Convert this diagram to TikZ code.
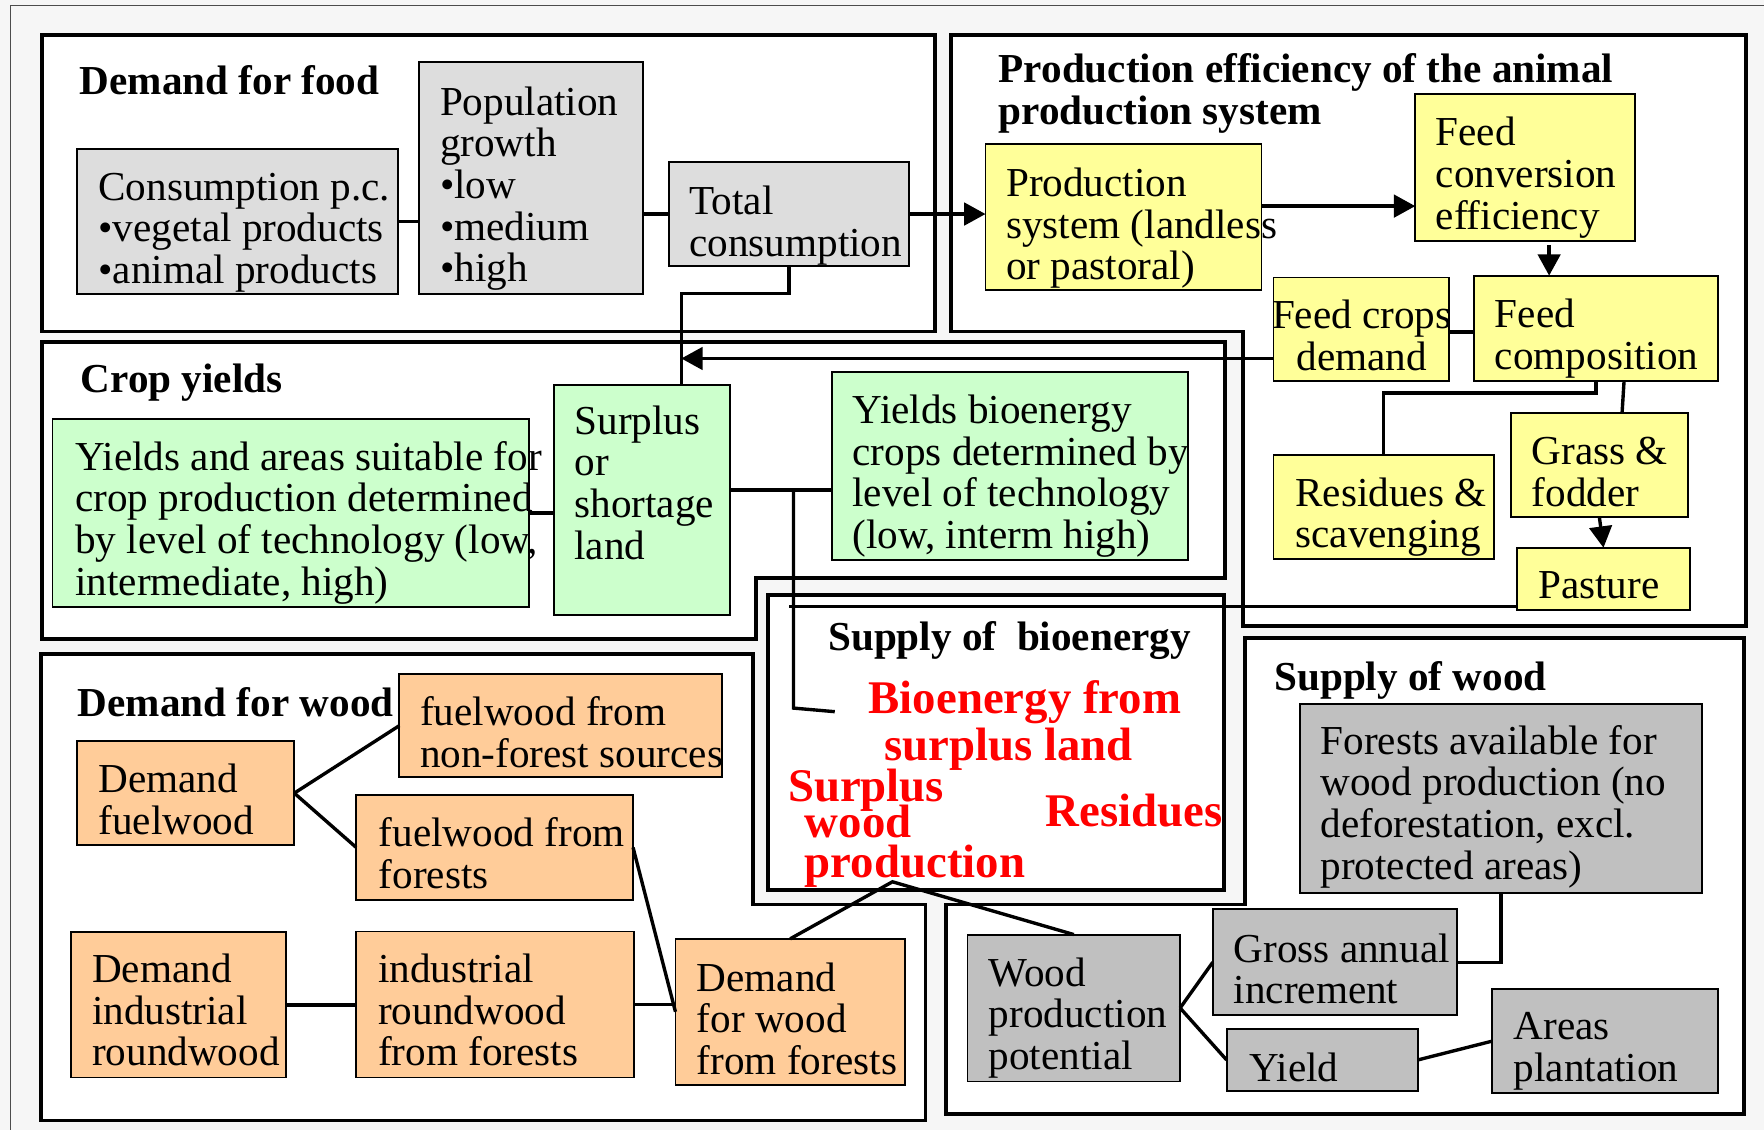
\documentclass[tikz,border=0pt]{standalone}
\usepackage{fontspec}
\setmainfont{Liberation Serif}
\usetikzlibrary{arrows.meta}

\definecolor{foodgrey}{HTML}{DDDDDD}
\definecolor{woodgrey}{HTML}{C0C0C0}
\definecolor{feedyellow}{HTML}{FFFF99}
\definecolor{cropgreen}{HTML}{CCFFCC}
\definecolor{woodorange}{HTML}{FFCC99}
\definecolor{bioredtext}{HTML}{FF0000}

\newcommand\bodysize{\fontsize{36.6}{37}\selectfont}
\newcommand\biosize{\fontsize{41.6}{39}\selectfont}
% stacked lines whose baseline is the baseline of the first line
\newcommand\rows[1]{\vtop{\let\\\cr\halign{##\hfil\cr#1\crcr}}}
\newcommand\crows[1]{\vtop{\let\\\cr\halign{\hfil##\hfil\cr#1\crcr}}}

\tikzset{
  panel/.style={draw=black, fill=white, line width=3.4pt},
  box/.style={draw=black, line width=1.7pt, inner sep=0pt, outer sep=0pt, anchor=north west},
  foodbox/.style={box, fill=foodgrey},
  feedbox/.style={box, fill=feedyellow},
  cropbox/.style={box, fill=cropgreen},
  fuelbox/.style={box, fill=woodorange},
  forestbox/.style={box, fill=woodgrey},
  boxtext/.style={font=\bodysize, inner sep=0pt, anchor=base west},
  heading/.style={font=\bodysize\bfseries, inner sep=0pt, anchor=base west},
  biotext/.style={font=\biosize\bfseries, text=bioredtext, inner sep=0pt, anchor=base west},
  link/.style={line width=3pt},
  feedarrow/.style={link, -{Triangle[length=19pt,width=20pt]}},
}

% box: name, style, x1, y1, x2, y2, text x, first baseline, lines
\newcommand\tbox[9]{%
  \pgfmathsetmacro\tbw{#5-#3}%
  \pgfmathsetmacro\tbh{#6-#4}%
  \node[#2, minimum width=\tbw pt, minimum height=\tbh pt] (#1) at (#3,#4) {};%
  \pgfmathsetmacro\tbdx{#7-#3}%
  \pgfmathsetmacro\tbdy{#8-#4}%
  \node[boxtext] (#1-t) at ([shift={(\tbdx,\tbdy)}]#1.north west) {\rows{#9}};}

\begin{document}
\begin{tikzpicture}[x=1pt,y=-1pt]
\useasboundingbox (0,0) rectangle (1568,1004);
\fill[gray!7] (0,0) rectangle (1568,1004);
\draw[gray!60!black, line width=1pt] (9.3,1004) -- (9.3,4.8) -- (1568,4.8);

% group panels
\draw[panel] (37.5,31.4) rectangle (831,294.7);
\draw[panel] (845.4,31.4) -- (1552,31.4) -- (1552,556.4) -- (1104.6,556.4)
  -- (1104.6,294.7) -- (845.4,294.7) -- cycle;
\draw[panel] (37.5,303.7) -- (1088.6,303.7) -- (1088.6,514.1) -- (672,514.1)
  -- (672,568.3) -- (37.5,568.3) -- cycle;
\draw[panel] (682.7,528.6) rectangle (1088,791.2);
\draw[panel] (36.7,581.4) -- (669.3,581.4) -- (669.3,804) -- (822.7,804)
  -- (822.7,996) -- (36.7,996) -- cycle;
\draw[panel] (1107,567) -- (1550,567) -- (1550,990) -- (841,990)
  -- (841,804) -- (1107,804) -- cycle;

% headings
\node[heading] (hfood) at (70.7,83.9) {Demand for food};
\node[heading] (hanim1) at (887.6,73) {Production efficiency of the animal};
\node[heading] (hanim2) at (887.6,110.5) {production system};
\node[heading] (hcrop) at (71.7,349.2) {Crop yields};
\node[heading] (hbio) at (736,578.2) {Supply of\ \ bioenergy};
\node[heading] (hdwood) at (69,636.6) {Demand for wood};
\node[heading] (hswood) at (1132.6,613.5) {Supply of wood};

% demand for food
\tbox{cons}{foodbox}{68.3}{132.3}{354}{261.7}{87.3}{177.8}{Consumption p.c.\\•vegetal products\\•animal products}
\tbox{pop}{foodbox}{372.7}{55.1}{571.5}{261.7}{391}{102.5}{Population\\growth\\•low\\•medium\\•high}
\tbox{tot}{foodbox}{594.3}{144.1}{808.3}{236.4}{612.6}{190.6}{Total\\consumption}

% animal production system
\tbox{prod}{feedbox}{876}{128.1}{1121.3}{257.9}{894.2}{174.6}{Production\\system (landless\\or pastoral)}
\tbox{fce}{feedbox}{1258}{83.9}{1453.6}{214.6}{1276}{129.7}{Feed\\conversion\\efficiency}
\tbox{fcomp}{feedbox}{1310.3}{245}{1526.9}{338.6}{1328.6}{291.5}{Feed\\composition}
\node[feedbox, minimum width=155.6pt, minimum height=91.9pt] (fcd) at (1132,246.7) {};
\node[boxtext, anchor=base] (fcd-t) at ([shift={(78.5,45.4)}]fcd.north west) {\crows{Feed crops\\demand}};
\tbox{resid}{feedbox}{1132}{404.3}{1327.6}{496.6}{1151.3}{450}{Residues \&\\scavenging}
\tbox{grass}{feedbox}{1343}{366.8}{1500.3}{459.7}{1361.3}{413.2}{Grass \&\\fodder}
\tbox{past}{feedbox}{1348.6}{486.9}{1502}{542.3}{1367}{531.8}{Pasture}

% crop yields
\tbox{ya}{cropbox}{46.7}{372.5}{470}{539.7}{66.7}{418}{Yields and areas suitable for\\crop production determined\\by level of technology (low,\\intermediate, high)}
\tbox{surp}{cropbox}{492.6}{342.1}{648.6}{546.7}{510.5}{386}{Surplus\\or\\shortage\\land}
\tbox{ybio}{cropbox}{739.3}{330.6}{1056}{497.8}{757.6}{376.4}{Yields bioenergy\\crops determined by\\level of technology\\(low, interm high)}

% demand for wood
\tbox{fnf}{fuelbox}{355}{599}{642}{691}{373.3}{645.2}{fuelwood from\\non-forest sources}
\tbox{dfuel}{fuelbox}{68.3}{659}{261.6}{751}{87.3}{704.7}{Demand\\fuelwood}
\tbox{ff}{fuelbox}{316.6}{706.3}{562.7}{800.2}{336.6}{752.8}{fuelwood from\\forests}
\tbox{dir}{fuelbox}{63.3}{828.7}{254.3}{957.8}{81.7}{873.5}{Demand\\industrial\\roundwood}
\tbox{irf}{fuelbox}{316.6}{828}{563.5}{957.8}{336}{873.5}{industrial\\roundwood\\from forests}
\tbox{dwf}{fuelbox}{600.4}{834.5}{804.3}{964.2}{619.3}{881}{Demand\\for wood\\from forests}

% supply of wood
\tbox{wpp}{forestbox}{860}{830.7}{1049}{961.3}{878.7}{876.7}{Wood\\production\\potential}
\tbox{fav}{forestbox}{1155.3}{625.6}{1512.9}{793.4}{1173.7}{670.5}{Forests available for\\wood production (no\\deforestation, excl.\\protected areas)}
\tbox{gross}{forestbox}{1078}{808.2}{1294.7}{902.4}{1096.4}{855.3}{Gross annual\\increment}
\tbox{yield}{forestbox}{1090.3}{914.6}{1260.3}{969.7}{1110.2}{961}{Yield}
\tbox{areas}{forestbox}{1326.3}{879.3}{1526.9}{971.6}{1345.3}{924.2}{Areas\\plantation}

% supply of bioenergy
\node[biotext] (bio1) at (772,634.3) {Bioenergy from};
\node[biotext] (bio2) at (786,676) {surplus land};
\node[biotext] (bio3) at (700.3,712.7) {Surplus};
\node[biotext] (bio4) at (715.3,744.8) {wood};
\node[biotext] (bio5) at (715.3,780) {production};
\node[biotext] (bio6) at (929.2,734.5) {Residues};

% food demand links
\draw[link] (cons.east) -- (cons.east -| pop.west);
\draw[link] (tot.west) -- (tot.west -| pop.east);
\draw[feedarrow] (tot.east) -- (tot.east -| prod.west);
\coordinate (surpin) at ([xshift=35pt]surp.north);
\draw[link] (tot.south) -- ++(0,24.6) -| (surpin);

% animal production links
\coordinate (fcdout) at ([yshift=-26pt]fcd.west);
\draw[feedarrow] (fcdout) -- (fcdout -| surpin);
\coordinate (prodout) at ([yshift=9.8pt]prod.east);
\draw[feedarrow] (prodout) -- (prodout -| fce.west);
\coordinate (fceout) at ([xshift=21.2pt,yshift=-3pt]fce.south);
\draw[feedarrow] (fceout) -- (fceout |- fcomp.north);
\coordinate (fcdside) at ([yshift=-2.6pt]fcd.east);
\draw[link] (fcdside) -- (fcdside -| fcomp.west);
\draw[link] (fcomp.south) -- ++(0,10.6) -| (resid.north);
\draw[link] ([xshift=25pt]fcomp.south) -- ([xshift=20.2pt]grass.north);
\draw[feedarrow] (grass.south) -- (past.north);

% crop and bioenergy links
\coordinate (pastout) at ([yshift=3.2pt]past.south west);
\coordinate (bioknee) at (705.3,629.4);
\coordinate (bioend) at (742,632.6);
\coordinate (pastend) at (pastout -| bioknee);
\draw[link] (pastout) -- ([xshift=-4pt]pastend);
\draw[link] (ya.east) -- (ya.east -| surp.west);
\coordinate (surpout) at ([yshift=8.95pt]surp.east);
\draw[link] (surpout) -- (surpout -| ybio.west);
\draw[link] (surpout -| bioknee) -- (bioknee) -- (bioend);

% wood demand links
\draw[link] (dfuel.east) -- (fnf.west);
\draw[link] (dfuel.east) -- (ff.west);
\draw[link] (dir.east) -- (dir.east -| irf.west);
\draw[link] (irf.east) -- (irf.east -| dwf.west);
\draw[link] (ff.east) -- (dwf.west);
\coordinate (bioout) at (793.3,783.8);
\draw[link] (dwf.north) -- (bioout) -- (wpp.north);

% wood supply links
\draw[link] (fav.south) |- (gross.east);
\draw[link] (wpp.east) -- (gross.west);
\draw[link] (wpp.east) -- (yield.west);
\draw[link] (yield.east) -- (areas.west);
\end{tikzpicture}
\end{document}
